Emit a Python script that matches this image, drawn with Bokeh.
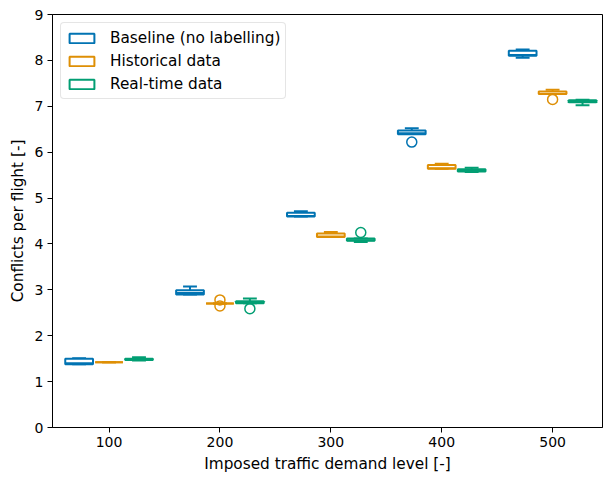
from bokeh.plotting import figure
from bokeh.embed import file_html
from bokeh.resources import INLINE
from bokeh.models import ColumnDataSource, Range1d, FixedTicker, Legend

levels = [100, 200, 300, 400, 500]
series_names = ["Baseline (no labelling)", "Historical data", "Real-time data"]
colors = ["#0173B2", "#DE8F05", "#029E73"]
offsets = [-27, 0, 27]
box_width = 25

# Baseline (no labelling)
base_lo = [1.38, 2.90, 4.60, 6.40, 8.06]
base_q1 = [1.38, 2.90, 4.60, 6.39, 8.10]
base_med = [1.40, 2.93, 4.61, 6.41, 8.12]
base_q3 = [1.50, 2.99, 4.68, 6.47, 8.21]
base_hi = [1.51, 3.07, 4.71, 6.52, 8.24]
base_out_x = [400]
base_out_y = [6.22]

# Historical data
hist_lo = [1.42, 2.70, 4.15, 5.64, 7.27]
hist_q1 = [1.42, 2.70, 4.15, 5.64, 7.27]
hist_med = [1.42, 2.70, 4.16, 5.65, 7.27]
hist_q3 = [1.42, 2.70, 4.23, 5.72, 7.32]
hist_hi = [1.42, 2.70, 4.26, 5.75, 7.36]
hist_out_x = [200, 200, 500]
hist_out_y = [2.78, 2.65, 7.15]

# Real-time data
rt_lo = [1.46, 2.71, 4.04, 5.57, 7.02]
rt_q1 = [1.47, 2.71, 4.07, 5.58, 7.09]
rt_med = [1.48, 2.72, 4.08, 5.59, 7.10]
rt_q3 = [1.50, 2.75, 4.12, 5.63, 7.13]
rt_hi = [1.53, 2.81, 4.12, 5.66, 7.14]
rt_out_x = [200, 300]
rt_out_y = [2.59, 4.25]

data = [
    (base_lo, base_q1, base_med, base_q3, base_hi, base_out_x, base_out_y),
    (hist_lo, hist_q1, hist_med, hist_q3, hist_hi, hist_out_x, hist_out_y),
    (rt_lo, rt_q1, rt_med, rt_q3, rt_hi, rt_out_x, rt_out_y),
]

FONT = "DejaVu Sans"

p = figure(width=603, height=480, output_backend="svg", toolbar_location=None,
           x_range=Range1d(49, 545), y_range=Range1d(0, 9),
           min_border_left=52, min_border_right=1, min_border_top=14, min_border_bottom=53)
p.background_fill_color = "white"
p.border_fill_color = "white"
p.outline_line_color = "black"
p.outline_line_width = 1
p.xgrid.visible = False
p.ygrid.visible = False

for ax in (p.xaxis[0], p.yaxis[0]):
    ax.axis_line_color = "black"
    ax.major_tick_line_color = "black"
    ax.major_tick_out = 5
    ax.major_tick_in = 0
    ax.minor_tick_line_color = None
    ax.major_label_text_font = FONT
    ax.major_label_text_font_size = "14px"
    ax.major_label_text_color = "black"
    ax.axis_label_text_font = FONT
    ax.axis_label_text_font_size = "15.3px"
    ax.axis_label_text_font_style = "normal"
    ax.axis_label_text_color = "black"
    ax.major_label_standoff = 4
    ax.axis_label_standoff = 5

p.xaxis.ticker = FixedTicker(ticks=levels)
p.yaxis.ticker = FixedTicker(ticks=list(range(0, 10)))
p.xaxis.axis_label = "Imposed traffic demand level [-]"
p.yaxis.axis_label = "Conflicts per flight [-]"

legend_items = []
for (lo, q1, med, q3, hi, ox, oy), name, col, off in zip(data, series_names, colors, offsets):
    x = [lv + off for lv in levels]
    src = ColumnDataSource(dict(
        x=x, lo=lo, q1=q1, med=med, q3=q3, hi=hi,
        l=[v - box_width / 2 for v in x], r=[v + box_width / 2 for v in x],
        cl=[v - box_width / 4 for v in x], cr=[v + box_width / 4 for v in x],
    ))
    # whiskers
    p.segment(x0="x", y0="q3", x1="x", y1="hi", source=src, line_color=col, line_width=2)
    p.segment(x0="x", y0="q1", x1="x", y1="lo", source=src, line_color=col, line_width=2)
    # caps
    p.segment(x0="cl", y0="hi", x1="cr", y1="hi", source=src, line_color=col, line_width=2)
    p.segment(x0="cl", y0="lo", x1="cr", y1="lo", source=src, line_color=col, line_width=2)
    # box
    box = p.vbar(x="x", width=box_width, bottom="q1", top="q3", source=src,
                 fill_color="white", line_color=col, line_width=2)
    # median
    p.segment(x0="l", y0="med", x1="r", y1="med", source=src, line_color=col, line_width=2)
    # outliers
    osrc = ColumnDataSource(dict(x=[v + off for v in ox], y=oy))
    p.scatter(x="x", y="y", source=osrc, marker="circle", size=10,
              fill_color=None, line_color=col, line_width=1.5)
    legend_items.append((name, [box]))

legend = Legend(items=legend_items, location="top_left")
legend.label_text_font = FONT
legend.label_text_font_size = "15.3px"
legend.label_text_color = "black"
legend.glyph_width = 31
legend.glyph_height = 12
legend.label_height = 19
legend.label_standoff = 13
legend.spacing = 4
legend.padding = 5
legend.margin = 8
legend.border_line_color = "#cccccc"
legend.border_line_width = 1
legend.background_fill_color = "white"
legend.background_fill_alpha = 0.8
if "border_radius" in Legend.properties():
    legend.border_radius = 4
p.add_layout(legend)

open("out.html", "w").write(file_html(p, INLINE))
